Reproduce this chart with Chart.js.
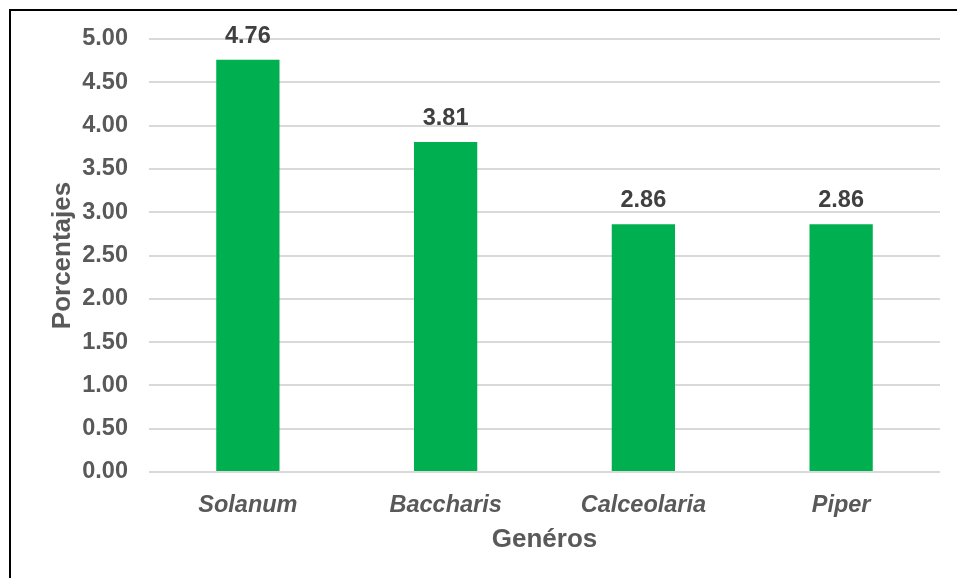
<!DOCTYPE html>
<html>
<head>
<meta charset="utf-8">
<script src="https://cdn.jsdelivr.net/npm/chart.js@4/dist/chart.umd.min.js"></script>
<style>
  html, body { margin: 0; padding: 0; background: #fff; overflow: hidden; }
  #wrap { position: relative; width: 957px; height: 578px; }
  #frame {
    position: absolute; left: 9px; top: 9px; width: 2000px; height: 2000px;
    border-left: 2px solid #000; border-top: 2px solid #000;
    pointer-events: none;
  }
  canvas { position: absolute; left: 0; top: 0; }
</style>
</head>
<body>
<div id="wrap">
  <canvas id="chart" width="957" height="578"></canvas>
  <div id="frame"></div>
</div>
<script>
// ── DATA ───────────────────────────────────────────
const generos     = ["Solanum", "Baccharis", "Calceolaria", "Piper"];
const porcentajes = [4.76, 3.81, 2.86, 2.86];
const yTicks      = [0, 0.5, 1, 1.5, 2, 2.5, 3, 3.5, 4, 4.5, 5];

const FONT  = "'Liberation Sans', Arial, sans-serif";
const GRAY  = "#595959";
const GREEN = "#00B050";

// value labels above each bar
const barLabels = {
  id: "barLabels",
  afterDatasetsDraw(chart) {
    const { ctx } = chart;
    const meta = chart.getDatasetMeta(0);
    ctx.save();
    ctx.font = `bold 23.5px ${FONT}`;
    ctx.fillStyle = "#404040";
    ctx.textAlign = "center";
    ctx.textBaseline = "alphabetic";
    meta.data.forEach((bar, i) => {
      ctx.fillText(porcentajes[i].toFixed(2), bar.x, bar.y - 17);
    });
    ctx.restore();
  }
};

new Chart(document.getElementById("chart").getContext("2d"), {
  type: "bar",
  data: {
    labels: generos,
    datasets: [{
      data: porcentajes,
      backgroundColor: GREEN,
      borderWidth: 0,
      categoryPercentage: 1,
      barPercentage: 0.32
    }]
  },
  options: {
    responsive: false,
    animation: false,
    layout: { padding: { left: 0, top: 39, right: 17, bottom: 0 } },
    plugins: {
      legend: { display: false },
      tooltip: { enabled: false }
    },
    scales: {
      x: {
        afterFit: s => { s.height = 106; },
        grid: { display: false },
        border: { display: false },
        ticks: {
          padding: 11,
          color: GRAY,
          font: { family: FONT, size: 23.5, weight: "bold", style: "italic" }
        },
        title: {
          display: true,
          text: "Genéros",
          color: GRAY,
          padding: { top: 0, bottom: 23 },
          font: { family: FONT, size: 26, weight: "bold" }
        }
      },
      y: {
        min: 0,
        max: 5,
        afterFit: s => { s.width = 149; },
        afterBuildTicks: s => { s.ticks = yTicks.map(v => ({ value: v })); },
        grid: { color: "#d9d9d9", lineWidth: 2, drawTicks: false },
        border: { display: false },
        ticks: {
          padding: 21,
          color: GRAY,
          font: { family: FONT, size: 23.5, weight: "bold" },
          callback: v => Number(v).toFixed(2)
        },
        title: {
          display: true,
          text: "Porcentajes",
          color: GRAY,
          padding: { top: 47, bottom: 0 },
          font: { family: FONT, size: 26, weight: "bold" }
        }
      }
    }
  },
  plugins: [barLabels]
});
</script>
</body>
</html>
